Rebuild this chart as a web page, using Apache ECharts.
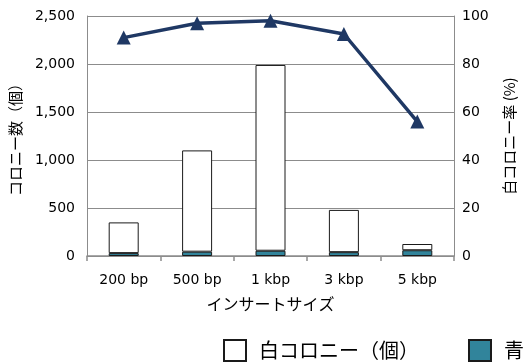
<!DOCTYPE html>
<html><head><meta charset="utf-8">
<script src="https://cdn.jsdelivr.net/npm/echarts@6/dist/echarts.min.js"></script>
<style>html,body{margin:0;padding:0;background:#fff}#c{width:525px;height:363px}</style>
</head><body><div id="c"></div>
<script>
var categories = ['200 bp', '500 bp', '1 kbp', '3 kbp', '5 kbp'];
var whiteColonies = [320, 1055, 1935, 440, 65];
var blueColonies = [30, 45, 55, 40, 60];
var whiteRate = [91, 97, 98, 92.5, 56];
var leftTicks = {min: 0, max: 2500, interval: 500};
var rightTicks = {min: 0, max: 100, interval: 20};
var names = {white: '白コロニー（個）', blue: '青コロニー（個）', rate: '白コロニー率 (%)'};

var numFont = 'DejaVu Sans, Verdana, sans-serif';
var jpFont = 'Noto Sans CJK JP, sans-serif';
var chart = echarts.init(document.getElementById('c'), null, {renderer: 'canvas'});
chart.setOption({
  animation: false,
  backgroundColor: '#fff',
  grid: {left: 83, right: 70, top: 16, bottom: 107},
  legend: {
    left: 218, top: 334, width: 1000,
    icon: 'rect',
    itemWidth: 22, itemHeight: 21, itemGap: 49,
    data: [names.white, names.blue, names.rate],
    textStyle: {fontFamily: jpFont, fontSize: 20, color: '#000', padding: [0, 0, 0, 8]}
  },
  xAxis: {
    type: 'category', data: categories,
    name: 'インサートサイズ', nameLocation: 'middle', nameGap: 40,
    nameTextStyle: {fontFamily: jpFont, fontSize: 16, color: '#000'},
    axisLine: {lineStyle: {color: '#8c8c8c', width: 1.5}},
    axisTick: {show: true, length: 5, lineStyle: {color: '#8c8c8c', width: 1.5}},
    axisLabel: {fontFamily: numFont, fontSize: 14, color: '#000', margin: 17}
  },
  yAxis: [{
    type: 'value', min: leftTicks.min, max: leftTicks.max, interval: leftTicks.interval,
    name: 'コロニー数（個）', nameLocation: 'middle', nameGap: 64, nameRotate: 90,
    nameTextStyle: {fontFamily: jpFont, fontSize: 15, color: '#000'},
    axisLine: {show: true, lineStyle: {color: '#8c8c8c', width: 1}},
    axisTick: {show: false},
    splitLine: {lineStyle: {color: '#8c8c8c', width: 1}},
    axisLabel: {fontFamily: numFont, fontSize: 14, color: '#000', margin: 12,
      formatter: function (v) { return v.toLocaleString('en-US'); }}
  }, {
    type: 'value', min: rightTicks.min, max: rightTicks.max, interval: rightTicks.interval,
    name: names.rate, nameLocation: 'middle', nameGap: 48, nameRotate: 90,
    nameTextStyle: {fontFamily: jpFont, fontSize: 15, color: '#000'},
    axisLine: {show: true, lineStyle: {color: '#8c8c8c', width: 1}},
    axisTick: {show: false},
    splitLine: {show: false},
    axisLabel: {fontFamily: numFont, fontSize: 14, color: '#000', margin: 8}
  }],
  series: [{
    name: names.blue, type: 'bar', stack: 'c', barWidth: 30, data: blueColonies,
    itemStyle: {color: '#31849B', borderColor: '#1a1a1a', borderWidth: 1}
  }, {
    name: names.white, type: 'bar', stack: 'c', barWidth: 30, data: whiteColonies,
    itemStyle: {color: '#ffffff', borderColor: '#1a1a1a', borderWidth: 1}
  }, {
    name: names.rate, type: 'line', yAxisIndex: 1, data: whiteRate,
    symbol: 'triangle', symbolSize: 14,
    lineStyle: {color: '#1F3864', width: 3.5},
    itemStyle: {color: '#1F3864'}
  }]
});
</script></body></html>
